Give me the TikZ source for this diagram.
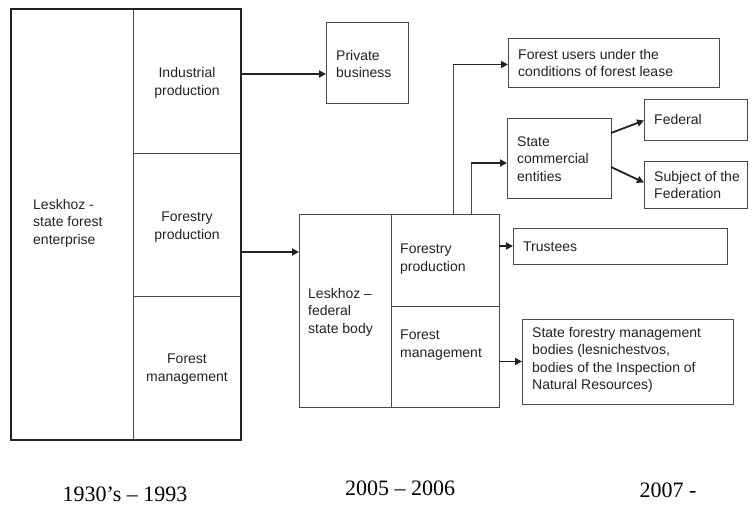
\documentclass[tikz,border=0pt]{standalone}
\usepackage{fontspec}
\setmainfont{Liberation Sans}
\newfontfamily\yearfont{Liberation Serif}
\usetikzlibrary{arrows.meta}
\definecolor{boxgray}{HTML}{4A4A4A}
\definecolor{linegray}{HTML}{222222}
\definecolor{txtgray}{HTML}{222222}
\begin{document}
\begin{tikzpicture}[x=1pt,y=-1pt,
  box/.style={draw=boxgray, line width=1pt, anchor=north west, inner sep=0pt, outer sep=0pt},
  thickbox/.style={draw=linegray, line width=2.4pt, anchor=north west, inner sep=0pt, outer sep=0pt},
  lbl/.style={font=\fontsize{14}{17.5}\selectfont, align=left, anchor=west, inner sep=0pt, text=txtgray},
  clbl/.style={font=\fontsize{14}{18.5}\selectfont, align=center, anchor=center, inner sep=0pt, text=txtgray},
  yr/.style={font=\yearfont\fontsize{22}{26}\selectfont, anchor=center, inner sep=0pt, text=black},
  arr/.style={draw=linegray, line width=1.8pt, -{Triangle[length=7pt,width=7pt]}},
  thin/.style={draw=boxgray, line width=1pt}
]
\useasboundingbox (0,0) rectangle (756,506);

% ---- 1930's - 1993 ----
\node[box, minimum width=122pt, minimum height=431pt] (lesk1) at (11,9) {};
\node[box, minimum width=108pt, minimum height=144pt] (indus) at (133,9) {};
\node[box, minimum width=108pt, minimum height=143pt] (forprod1) at (133,153) {};
\node[box, minimum width=108pt, minimum height=144pt] (forman1) at (133,296) {};
\node[thickbox, minimum width=230pt, minimum height=431pt] (era1) at (11,9) {};

\node[lbl] (t-lesk1) at (33,223) {Leskhoz -\\state forest\\enterprise};
\node[clbl] (t-indus) at (187,83) {Industrial\\production};
\node[clbl] (t-forprod1) at (187,227) {Forestry\\production};
\node[clbl] (t-forman1) at (187,369) {Forest\\management};

% ---- Private business ----
\node[box, minimum width=82pt, minimum height=81pt] (priv) at (326,22) {};
\node[lbl] (t-priv) at (336,64) {Private\\business};

% ---- 2005 - 2006 ----
\node[box, minimum width=92pt, minimum height=193pt] (leskf) at (299,214) {};
\node[box, minimum width=108pt, minimum height=92pt] (forprod2) at (391,214) {};
\node[box, minimum width=108pt, minimum height=101pt] (forman2) at (391,306) {};

\node[lbl] (t-leskf) at (308,312) {Leskhoz --\\federal\\state body};
\node[lbl] (t-forprod2) at (400,259) {Forestry\\production};
\node[lbl] (t-forman2) at (400,345) {Forest\\management};

% ---- 2007 - ----
\node[box, minimum width=211pt, minimum height=49pt] (fusers) at (508,38) {};
\node[lbl] (t-fusers) at (518,63) {Forest users under the\\conditions of forest lease};

\node[box, minimum width=104pt, minimum height=80pt] (sce) at (507,118) {};
\node[lbl] (t-sce) at (517,159) {State\\commercial\\entities};

\node[box, minimum width=103pt, minimum height=41pt] (fed) at (644,99) {};
\node[lbl] (t-fed) at (654,119) {Federal};

\node[box, minimum width=103pt, minimum height=47pt] (subj) at (644,161) {};
\node[lbl] (t-subj) at (654,185) {Subject of the\\Federation};

\node[box, minimum width=214pt, minimum height=36pt] (trust) at (513,228) {};
\node[lbl] (t-trust) at (523,247) {Trustees};

\node[box, minimum width=211pt, minimum height=85pt] (sfm) at (522,319) {};
\node[lbl] (t-sfm) at (532,360) {State forestry management\\bodies (lesnichestvos,\\bodies of the Inspection of\\Natural Resources)};

% ---- years ----
\node[yr] (y1) at (125,494) {1930’s – 1993};
\node[yr] (y2) at (400,488) {2005 – 2006};
\node[yr] (y3) at (668,490) {2007 -};

% ---- connectors ----
\path ([yshift=7pt]indus.east) coordinate (c-indus);
\draw[arr] (c-indus) -- (c-indus -| priv.west);

\path (forprod1.east |- 0,252) coordinate (c-forprod1);
\draw[arr] (c-forprod1) -- (c-forprod1 -| leskf.west);

\path (forprod2.north -| 453,0) coordinate (c-up1);
\path (c-up1 |- fusers.west) coordinate (c-corner1);
\draw[thin] (c-up1) -- ([yshift=-2pt]c-corner1);
\draw[arr] ([yshift=-2pt]c-corner1) -- ([yshift=-2pt]fusers.west);

\path (forprod2.north -| 471,0) coordinate (c-up2);
\path (c-up2 |- sce.west) coordinate (c-corner2);
\draw[thin] (c-up2) -- ([yshift=-5pt]c-corner2);
\draw[arr] ([yshift=-5pt]c-corner2) -- ([yshift=-5pt]sce.west);

\draw[arr] (trust.west -| forprod2.east) -- (trust.west);
\draw[arr] (sfm.west -| forman2.east) -- (sfm.west);

\draw[arr] ([yshift=25pt]sce.east) -- ([yshift=-1pt]fed.west);
\draw[arr] ([yshift=-9pt]sce.east) -- ([yshift=2pt]subj.west);
\end{tikzpicture}
\end{document}
